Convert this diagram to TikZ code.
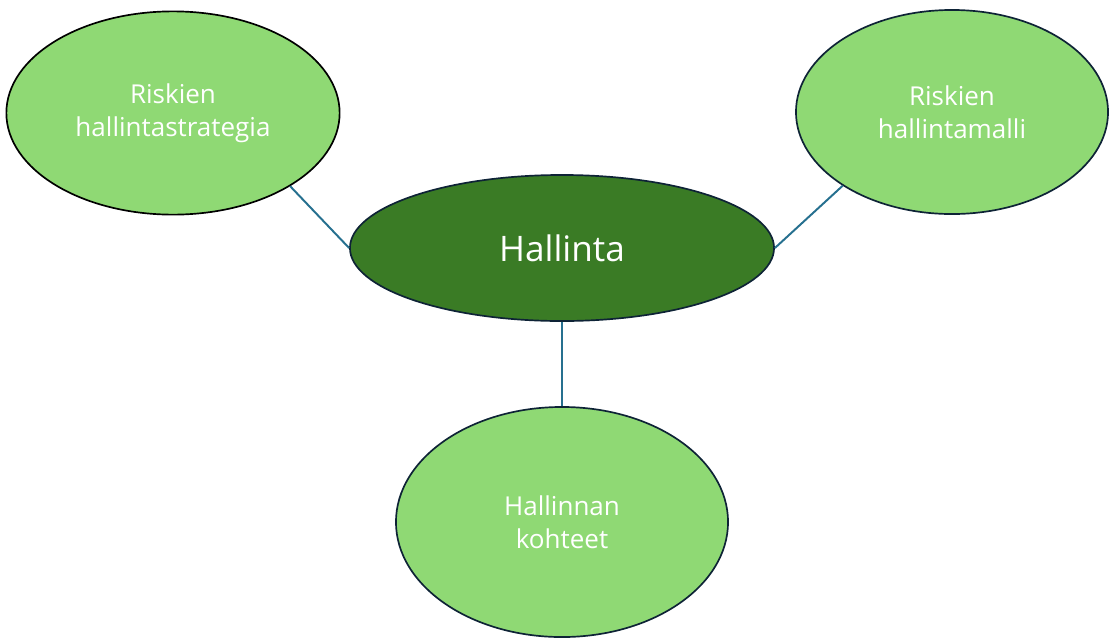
\documentclass[tikz,border=0pt]{standalone}
\usepackage{fontspec}
\setmainfont{Open Sans}
\usetikzlibrary{shapes.geometric}

\definecolor{lightgreen}{HTML}{8FD974}
\definecolor{darkgreen}{HTML}{3A7B25}
\definecolor{rimcolor}{HTML}{0E2336}
\definecolor{linkcolor}{HTML}{26708F}

\tikzset{
    topic/.style={ellipse, draw=rimcolor, line width=1.2pt, fill=lightgreen, text=white,
        inner sep=0pt, align=center, font=\fontsize{18.5}{23.5}\selectfont},
    hub/.style={topic, fill=darkgreen, font=\fontsize{25}{30}\selectfont},
    link/.style={draw=linkcolor, line width=1.4pt}
}

\begin{document}
\begin{tikzpicture}[x=0.025cm, y=-0.025cm]
        % Frame
        \useasboundingbox (0,0) rectangle (1109,639);
        % Ellipses
        \node[hub, minimum width=10.6cm, minimum height=3.65cm] (hallinta) at (562,248) {Hallinta};
        \node[topic, draw=black, minimum width=8.33cm, minimum height=5.08cm] (strategia) at (173,113) {Riskien\\hallintastrategia};
        \node[topic, minimum width=7.8cm, minimum height=5.1cm] (malli) at (952,112) {Riskien\\hallintamalli};
        \node[topic, minimum width=8.3cm, minimum height=5.75cm] (kohteet) at (562,522) {Hallinnan\\kohteet};
        % Links
        \draw[link] (strategia.-32) -- (hallinta.west);
        \draw[link] (malli.214) -- (hallinta.east);
        \draw[link] (kohteet.north) -- (hallinta.south);
    \end{tikzpicture}
\end{document}
